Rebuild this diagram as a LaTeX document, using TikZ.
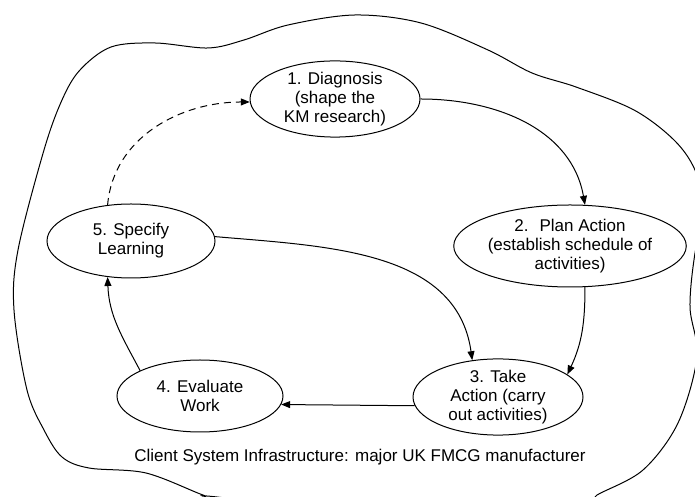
\documentclass[tikz,border=0pt]{standalone}
\usepackage{fontspec}
\setmainfont{Liberation Sans}
\usetikzlibrary{shapes.geometric,arrows.meta}
\tikzset{
  stage/.style={ellipse, draw, inner sep=0pt, align=center,
    font=\fontsize{17}{19}\selectfont},
}
\begin{document}
\begin{tikzpicture}[x=1pt,y=1pt,line width=1pt]
      \useasboundingbox (0,0) rectangle (695,497);
      \begin{scope}
        \clip (0,0) rectangle (695,497);
        \draw plot[smooth cycle,tension=0.55] coordinates {
          (18,247) (44,347) (62,397) (80,427) (111,450) (155,454) (208,449)
          (244,457) (288,472) (355,482) (421,474) (488,447) (532,424) (576,410)
          (634,387) (674,357) (695,327) (705,287) (695,244) (690,190) (697,140)
          (678,74) (643,27) (597,2) (585,-8) (400,-20) (217,0) (203,2)
          (146,24) (89,29) (62,40) (44,67) (27,107) (14,187)};
      \end{scope}
      \draw
        (335,398) node[stage,minimum width=170pt,minimum height=72pt] (1){1. Diagnosis\\(shape the\\KM research)}
        (570,251) node[stage,minimum width=176pt,minimum height=82pt] (2){2.~ Plan Action\\(establish schedule of\\activities)}
        (498,100) node[stage,minimum width=170pt,minimum height=70pt] (3){3. Take\\Action (carry\\out activities)}
        (200,101) node[stage,minimum width=166pt,minimum height=72pt] (4){4. Evaluate\\Work}
        (131,256) node[stage,minimum width=168pt,minimum height=74pt] (5){5. Specify\\Learning};
      \node[font=\fontsize{17}{19}\selectfont] (infra) at (360,40)
        {Client System Infrastructure: major UK FMCG manufacturer};
      \begin{scope}[-{Triangle[length=9pt,width=7pt]}]
        \draw[dash pattern=on 7pt off 5pt] (5.123) to[out=85,in=180] (1.182);
        \draw (1.east) to[out=0,in=100] (2.70);
        \draw (2.290) to[out=-90,in=65] (3.18);
        \draw (3.186) -- (4.-6);
        \draw (4.157) to[out=118,in=-88] (5.237);
        \draw (5.3) to[out=-5,in=98] (3.125);
      \end{scope}
    \end{tikzpicture}
\end{document}
